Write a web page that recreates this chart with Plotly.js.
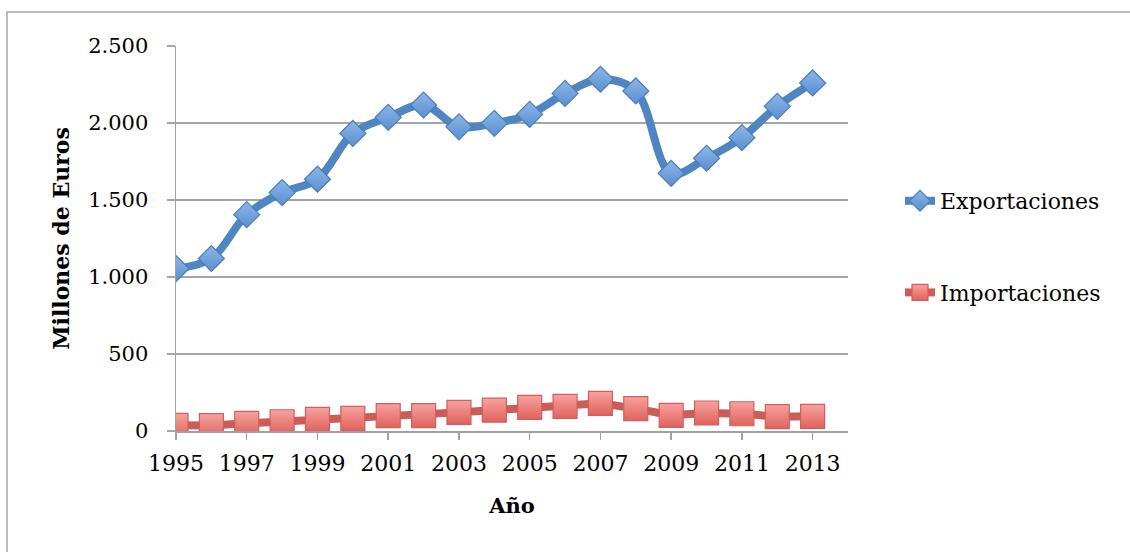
<!DOCTYPE html>
<html>
<head>
<meta charset="utf-8">
<script src="https://cdn.plot.ly/plotly-3.0.1.min.js"></script>
<style>
  html, body { margin: 0; padding: 0; background: #fff; }
  #chart { width: 1130px; height: 552px; }
</style>
</head>
<body>
<div id="chart"></div>
<script>
const years = [1995,1996,1997,1998,1999,2000,2001,2002,2003,2004,2005,2006,2007,2008,2009,2010,2011,2012,2013];
const exportaciones = [1055,1120,1405,1548,1635,1932,2037,2117,1975,1998,2056,2192,2284,2208,1673,1771,1905,2108,2260];
const importaciones = [37,35,50,60,76,82,100,100,121,136,154,160,180,145,102,117,112,93,95];
const seriesNames = ["Exportaciones", "Importaciones"];
const xTickVals = [1995,1997,1999,2001,2003,2005,2007,2009,2011,2013];

const serif = "'DejaVu Serif', 'Liberation Serif', serif";

const traces = [
  {
    x: years, y: exportaciones, name: seriesNames[0], type: 'scatter', mode: 'lines+markers',
    legendgroup: 'a',
    line: { color: '#4F86C2', width: 8, shape: 'spline', smoothing: 1 },
    marker: { symbol: 'diamond', size: 20, color: '#8DB6E8',
      gradient: { type: 'vertical', color: '#5A8FD0' },
      line: { color: '#4A7EBB', width: 1.2 } }
  },
  {
    x: years, y: importaciones, name: seriesNames[1], type: 'scatter', mode: 'lines+markers',
    legendgroup: 'b',
    line: { color: '#CC5C58', width: 8 },
    marker: { symbol: 'square', size: 24, color: '#F7A29E',
      gradient: { type: 'vertical', color: '#E0625E' },
      line: { color: '#D0605C', width: 1.2 } }
  }
];

const L = 176, R = 848, T = 46, B = 431, W = 1130, H = 552;
const px2x = p => (p - L) / (R - L);
const py2y = p => (B - p) / (B - T);

const layout = {
  width: W, height: H,
  margin: { l: L, r: W - R, t: T, b: H - B, pad: 0 },
  paper_bgcolor: '#fff', plot_bgcolor: '#fff',
  separators: ',.',
  font: { family: serif, color: '#000', size: 21 },
  showlegend: true,
  legend: {
    x: px2x(900), xanchor: 'left', y: py2y(180), yanchor: 'top',
    font: { family: serif, size: 22, color: '#000' },
    tracegroupgap: 60, bgcolor: 'rgba(0,0,0,0)'
  },
  xaxis: {
    range: [1995, 2014], tickmode: 'array', tickvals: xTickVals,
    ticktext: xTickVals.map(String),
    showgrid: false, zeroline: false,
    showline: true, linecolor: '#A0A0A0', linewidth: 1.5,
    ticks: 'outside', ticklen: 7, tickcolor: '#A0A0A0', tickwidth: 1.5,
    ticklabelstandoff: 5,
    tickfont: { family: serif, size: 22, color: '#000' },
    title: { text: '<b>Año</b>', font: { family: serif, size: 21, color: '#000' }, standoff: 23 }
  },
  yaxis: {
    range: [0, 2500], dtick: 500, tick0: 0,
    separatethousands: true, tickformat: ',d',
    showgrid: true, gridcolor: '#A6A6A6', gridwidth: 1.5,
    zeroline: false,
    showline: true, linecolor: '#A0A0A0', linewidth: 1.5,
    ticks: 'outside', ticklen: 8, tickcolor: '#A6A6A6', tickwidth: 1.5,
    tickfont: { family: serif, size: 21, color: '#000' },
    ticklabelstandoff: 14,
    title: { text: '<b>Millones de Euros</b>', font: { family: serif, size: 22, color: '#000' }, standoff: 12 }
  },
  shapes: [
    { type: 'rect', xref: 'paper', yref: 'paper',
      x0: px2x(7), x1: px2x(1150), y0: py2y(580), y1: py2y(12),
      line: { color: '#A6A6A6', width: 1.5 }, fillcolor: 'rgba(0,0,0,0)', layer: 'below' }
  ]
};

Plotly.newPlot('chart', traces, layout, { displayModeBar: false, staticPlot: true });
</script>
</body>
</html>
